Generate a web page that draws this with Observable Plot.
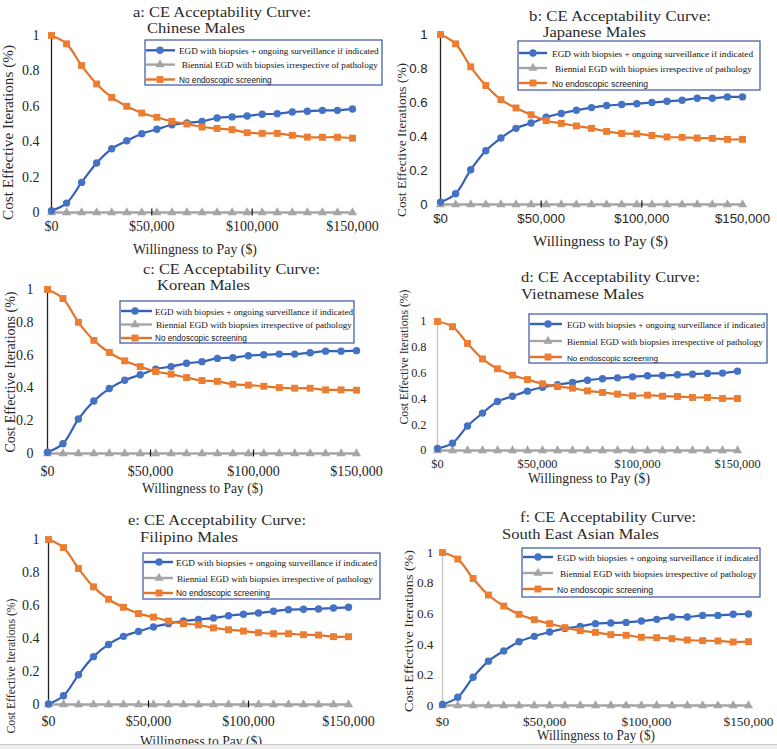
<!DOCTYPE html>
<html><head><meta charset="utf-8">
<script src="https://cdn.jsdelivr.net/npm/d3@7"></script>
<script src="https://cdn.jsdelivr.net/npm/@observablehq/plot@0.6"></script>
<style>
html,body{margin:0;padding:0;background:#fff;}
#root{position:relative;width:777px;height:749px;overflow:hidden;background:#fff;}
.panel{position:absolute;}
#overlay{position:absolute;left:0;top:0;}
</style></head><body><div id="root"></div>
<script>
// ---------- DATA ----------
const wtp = [0,7500,15000,22500,30000,37500,45000,52500,60000,67500,75000,82500,90000,97500,105000,112500,120000,127500,135000,142500,150000];
const seriesNames = [
  "EGD with biopsies + ongoing surveillance if indicated",
  "Biennial EGD with biopsies irrespective of pathology",
  "No endoscopic screening"
];
const panelTitles = ["a: CE Acceptability Curve:","b: CE Acceptability Curve:","c: CE Acceptability Curve:","d: CE Acceptability Curve:","e: CE Acceptability Curve:","f: CE Acceptability Curve:"];
const panelSubtitles = ["Chinese Males","Japanese Males","Korean Males","Vietnamese Males","Filipino Males","South East Asian Males"];
const xTitle = "Willingness to Pay ($)";
const yTitle = "Cost Effective Iterations (%)";
const xTicks = [0,50000,100000,150000];
const xTickLabels = ["$0","$50,000","$100,000","$150,000"];
const xMinorTicks = [50000,100000];
const yTicks = [0,0.2,0.4,0.6,0.8,1];
const yTickLabels = ["0","0.2","0.4","0.6","0.8","1"];

const biennial = [0,0,0,0,0,0,0,0,0,0,0,0,0,0,0,0,0,0,0,0,0];

const egdA  = [0.01,0.053,0.17,0.28,0.36,0.405,0.445,0.47,0.496,0.506,0.515,0.534,0.54,0.545,0.555,0.558,0.568,0.572,0.577,0.577,0.585];
const noneA = [1.0,0.953,0.83,0.726,0.65,0.6,0.562,0.538,0.515,0.5,0.483,0.475,0.468,0.451,0.447,0.447,0.436,0.426,0.425,0.425,0.42];
const egdB  = [0.014,0.063,0.204,0.316,0.391,0.448,0.479,0.513,0.536,0.554,0.57,0.582,0.588,0.593,0.6,0.607,0.613,0.625,0.625,0.633,0.633];
const noneB = [1.0,0.945,0.81,0.7,0.617,0.568,0.528,0.493,0.477,0.462,0.448,0.43,0.418,0.416,0.406,0.397,0.395,0.391,0.389,0.383,0.383];
const egdC  = [0.008,0.06,0.21,0.32,0.396,0.447,0.48,0.514,0.53,0.55,0.56,0.58,0.584,0.596,0.602,0.606,0.606,0.614,0.624,0.624,0.627];
const noneC = [1.0,0.945,0.8,0.69,0.616,0.565,0.53,0.5,0.484,0.463,0.445,0.44,0.422,0.417,0.41,0.402,0.398,0.398,0.388,0.388,0.386];
const egdD  = [0.015,0.057,0.19,0.29,0.38,0.42,0.46,0.49,0.51,0.527,0.545,0.556,0.563,0.571,0.579,0.581,0.587,0.592,0.597,0.6,0.615];
const noneD = [1.0,0.96,0.83,0.71,0.633,0.584,0.55,0.517,0.496,0.483,0.462,0.45,0.437,0.424,0.429,0.421,0.419,0.411,0.411,0.403,0.403];
const egdE  = [0.003,0.053,0.18,0.29,0.364,0.413,0.443,0.47,0.49,0.506,0.516,0.524,0.538,0.547,0.555,0.565,0.575,0.577,0.579,0.585,0.589];
const noneE = [1.0,0.951,0.824,0.713,0.638,0.589,0.551,0.53,0.506,0.49,0.482,0.464,0.453,0.445,0.435,0.429,0.429,0.423,0.421,0.411,0.411];
const egdF  = [0.007,0.054,0.185,0.29,0.357,0.417,0.452,0.48,0.504,0.517,0.535,0.539,0.543,0.552,0.563,0.578,0.578,0.589,0.589,0.596,0.598];
const noneF = [1.0,0.957,0.83,0.722,0.65,0.596,0.561,0.535,0.509,0.489,0.478,0.463,0.459,0.446,0.443,0.437,0.428,0.424,0.422,0.415,0.417];

const egdSeries  = [egdA, egdB, egdC, egdD, egdE, egdF];
const noneSeries = [noneA, noneB, noneC, noneD, noneE, noneF];

// ---------- STYLE / LAYOUT ----------
const BLUE = "#4472C4", BLUE_LINE = "#3560B5";
const ORANGE = "#ED7D31", ORANGE_LINE = "#E2742A";
const GRAY = "#A5A5A5";
const SERIF = "'Liberation Serif','Times New Roman',serif";
const SANS = "'Liberation Sans',Arial,sans-serif";

const layout = [
  {x0:51, x1:352, yt:35, yb:212, tickFont:SERIF, tickSize:14, xPad:9, yPad:12, axisColor:"#222", minor:true,
   t1:[133,16.7,178], t2:[147,33.3,98], xt:[133,253.5,124,14], yl:[13,132.5,175,14.5],
   lg:{box:[145,40,237,45], rows:[50.3,64.6,79.5], s:[146,175], m:160, t:[179,181.7,179], e:[379,378,271.7], fs:10}},
  {x0:440, x1:742, yt:34, yb:204, tickFont:SANS, tickSize:13.2, xPad:9, yPad:13, axisColor:"#222", minor:true,
   t1:[529,20.7,182], t2:[543,36.7,103], xt:[533,245.5,135,14.5], yl:[406,140,154,13],
   lg:{box:[518,41,242,49], rows:[53,68,83], s:[519,547], m:533, t:[552,555,552], e:[753,752,648], fs:11}},
  {x0:47, x1:356, yt:289, yb:453, tickFont:SERIF, tickSize:14, xPad:13, yPad:14, axisColor:"#222", minor:true,
   t1:[143,274,177], t2:[157,290,93], xt:[142,493,121,14], yl:[15,372,161,14],
   lg:{box:[120,301,234,42], rows:[311,324.5,338], s:[121,152], m:135, t:[155,156,155], e:[353,352,247], fs:10}},
  {x0:437, x1:737, yt:321, yb:450, tickFont:SERIF, tickSize:12.3, xPad:9, yPad:11, axisColor:"#c4c4c4", minor:false,
   t1:[521,282.3,179], t2:[521,299,123], xt:[528,483,122,14], yl:[408,357,135,12.5],
   lg:{box:[529,314,238,49], rows:[324,341,357], s:[530,562], m:548, t:[567,567,567], e:[765,763,658], fs:11}},
  {x0:48, x1:348, yt:539, yb:704, tickFont:SERIF, tickSize:14, xPad:12, yPad:9, axisColor:"#222", minor:true,
   t1:[128,525,178], t2:[140,541.7,98], xt:[140,745.5,122,14], yl:[15,666,135,12.5],
   lg:{box:[143,553,237,46], rows:[562,578,593], s:[144,173], m:159, t:[176,177,176], e:[377,373,270], fs:10}},
  {x0:442, x1:748, yt:552, yb:705, tickFont:SERIF, tickSize:13.3, xPad:11, yPad:9, axisColor:"#c4c4c4", minor:false,
   t1:[520,522.3,176], t2:[502,539,157], xt:[537,740,118,14], yl:[413,631,162,13.5],
   lg:{box:[522,548,238,49], rows:[557,573,589], s:[523,553], m:538, t:[557,560,557], e:[758,757,653], fs:11}}
];

const root = document.getElementById("root");
const fmtX = d => xTickLabels[xTicks.indexOf(d)];
const fmtY = d => yTickLabels[yTicks.indexOf(d)];

layout.forEach((L, i) => {
  const ml = 48, mr = 34, mt = 10, mb = 30;
  const W = (L.x1 - L.x0) + ml + mr;
  const H = (L.yb - L.yt) + mt + mb;
  const rows = wtp.map((x, j) => ({x, egd: egdSeries[i][j], bi: biennial[j], none: noneSeries[i][j]}));
  const marks = [
    Plot.axisX({ticks: xTicks, tickFormat: fmtX, tickSize: 0, tickPadding: L.xPad, label: null, fill: "#262626"}),
    Plot.axisY({ticks: yTicks, tickFormat: fmtY, tickSize: 0, tickPadding: L.yPad, label: null, fill: "#262626"}),
    Plot.ruleX([0], {stroke: L.axisColor, strokeWidth: 1.3}),
    Plot.line(rows, {x: "x", y: "bi", stroke: GRAY, strokeWidth: 2.6}),
  ];
  if (L.minor) marks.push(Plot.axisX({ticks: xMinorTicks, tickSize: 7, dy: -3.5, tickFormat: () => "", label: null, stroke: "#111", strokeWidth: 1.2}));
  marks.push(
    Plot.line(rows, {x: "x", y: "egd", stroke: BLUE_LINE, strokeWidth: 2.2, curve: "catmull-rom"}),
    Plot.line(rows, {x: "x", y: "none", stroke: ORANGE_LINE, strokeWidth: 2.2, curve: "catmull-rom"}),
    Plot.dot(rows, {x: "x", y: "bi", symbol: "triangle", r: 3.4, fill: GRAY}),
    Plot.dot(rows, {x: "x", y: "egd", symbol: "circle", r: 3.7, fill: BLUE}),
    Plot.dot(rows, {x: "x", y: "none", symbol: "square", r: 3.9, fill: ORANGE})
  );
  const chart = Plot.plot({
    width: W, height: H,
    marginLeft: ml, marginRight: mr, marginTop: mt, marginBottom: mb,
    x: {domain: [0, 150000]},
    y: {domain: [0, 1]},
    style: {fontFamily: L.tickFont, fontSize: L.tickSize + "px", background: "transparent", overflow: "visible", color: "#262626"},
    marks
  });
  const div = document.createElement("div");
  div.className = "panel";
  div.style.left = (L.x0 - ml) + "px";
  div.style.top = (L.yt - mt) + "px";
  div.style.width = W + "px";
  div.style.height = H + "px";
  div.appendChild(chart);
  root.appendChild(div);
});

// ---------- OVERLAY: titles, axis titles, legends ----------
const svg = d3.create("svg").attr("id", "overlay").attr("width", 777).attr("height", 749);
root.appendChild(svg.node());

// fit a text to a target width by adjusting its font size (no glyph distortion)
function fitText(sel, target, fs) {
  const n = sel.node().getComputedTextLength();
  if (n > 0) sel.attr("font-size", (fs * target / n).toFixed(2));
}

layout.forEach((L, i) => {
  const g = svg.append("g");
  g.append("text").attr("x", L.t1[0]).attr("y", L.t1[1]).attr("textLength", L.t1[2]).attr("lengthAdjust", "spacingAndGlyphs")
    .attr("font-family", SERIF).attr("font-size", 15.2).attr("fill", "#2a2a2a").text(panelTitles[i]);
  g.append("text").attr("x", L.t2[0]).attr("y", L.t2[1]).attr("textLength", L.t2[2]).attr("lengthAdjust", "spacingAndGlyphs")
    .attr("font-family", SERIF).attr("font-size", 15.2).attr("fill", "#2a2a2a").text(panelSubtitles[i]);
  g.append("text").attr("x", L.xt[0]).attr("y", L.xt[1]).attr("textLength", L.xt[2]).attr("lengthAdjust", "spacingAndGlyphs")
    .attr("font-family", SERIF).attr("font-size", L.xt[3]).attr("fill", "#2a2a2a").text(xTitle);
  g.append("text").attr("transform", `translate(${L.yl[0]},${L.yl[1]}) rotate(-90)`).attr("text-anchor", "middle")
    .attr("textLength", L.yl[2]).attr("lengthAdjust", "spacingAndGlyphs")
    .attr("font-family", SERIF).attr("font-size", L.yl[3]).attr("fill", "#2a2a2a").text(yTitle);

  // legend
  const lg = L.lg;
  g.append("rect").attr("x", lg.box[0]).attr("y", lg.box[1]).attr("width", lg.box[2]).attr("height", lg.box[3])
    .attr("fill", "#fff").attr("stroke", "#3A54A0").attr("stroke-width", 1.2);
  const lineColors = [BLUE_LINE, GRAY, ORANGE_LINE];
  const fillColors = [BLUE, GRAY, ORANGE];
  const symbols = [d3.symbolCircle, d3.symbolTriangle, d3.symbolSquare];
  const sizes = [Math.PI * 3.7 * 3.7, Math.PI * 3.4 * 3.4, Math.PI * 3.9 * 3.9];
  const fonts = [SERIF, SERIF, SANS];
  seriesNames.forEach((name, k) => {
    const y = lg.rows[k];
    g.append("line").attr("x1", lg.s[0]).attr("x2", lg.s[1]).attr("y1", y).attr("y2", y)
      .attr("stroke", lineColors[k]).attr("stroke-width", 2.4);
    g.append("path").attr("d", d3.symbol(symbols[k], sizes[k])()).attr("transform", `translate(${lg.m},${y})`).attr("fill", fillColors[k]);
    const fs = k === 2 ? lg.fs - 0.5 : lg.fs;
    const t = g.append("text").attr("x", lg.t[k]).attr("y", y + fs * 0.36)
      .attr("font-family", fonts[k]).attr("font-size", fs).attr("fill", "#111").text(name);
    fitText(t, lg.e[k] - lg.t[k], fs);
  });
});
// bottom strip of the page
svg.append("rect").attr("x", 0).attr("y", 744.5).attr("width", 777).attr("height", 5).attr("fill", "#eeeeee");
svg.append("line").attr("x1", 0).attr("x2", 777).attr("y1", 744.5).attr("y2", 744.5).attr("stroke", "#c8c8c8").attr("stroke-width", 1);
</script>
</body></html>
